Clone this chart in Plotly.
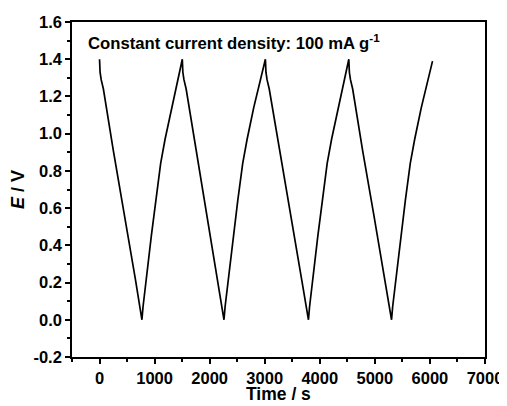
import plotly.graph_objects as go

# Time (s) and potential (V)
time_s = [0, 10, 30, 70, 250, 450, 650, 770, 790, 940, 1020, 1110, 1190, 1310, 1503,
          1513, 1533, 1573, 1753, 1953, 2150, 2260, 2280, 2430, 2510, 2600, 2680, 2800, 3012,
          3022, 3042, 3082, 3262, 3462, 3674, 3794, 3814, 3964, 4044, 4134, 4214, 4334, 4527,
          4537, 4557, 4597, 4777, 4977, 5183, 5303, 5323, 5473, 5553, 5643, 5723, 5843, 6047]
potential_v = [1.40, 1.33, 1.29, 1.24, 0.91, 0.57, 0.22, 0.00, 0.07, 0.45, 0.64, 0.84, 0.97, 1.14, 1.40,
               1.33, 1.29, 1.24, 0.91, 0.56, 0.20, 0.00, 0.07, 0.45, 0.64, 0.84, 0.97, 1.14, 1.40,
               1.33, 1.29, 1.24, 0.92, 0.58, 0.21, 0.00, 0.07, 0.45, 0.64, 0.84, 0.97, 1.14, 1.40,
               1.33, 1.29, 1.24, 0.91, 0.57, 0.21, 0.00, 0.07, 0.45, 0.64, 0.84, 0.97, 1.14, 1.39]

x_ticks = [0, 1000, 2000, 3000, 4000, 5000, 6000, 7000]
y_ticks = [-0.2, 0.0, 0.2, 0.4, 0.6, 0.8, 1.0, 1.2, 1.4, 1.6]
y_tick_labels = ["-0.2", "0.0", "0.2", "0.4", "0.6", "0.8", "1.0", "1.2", "1.4", "1.6"]
x_title = "Time / s"
annotation_text = "Constant current density: 100 mA g<sup>-1</sup>"

FONT = "Liberation Sans, Arial, sans-serif"

fig = go.Figure()
fig.add_trace(go.Scatter(x=time_s, y=potential_v, mode="lines",
                         line=dict(color="black", width=1.7), showlegend=False))

axis_common = dict(
    showgrid=False, zeroline=False, showline=True, linecolor="black", linewidth=1.6,
    mirror=True, ticks="outside", ticklen=5, tickwidth=1.5, tickcolor="black",
    automargin=False,
    tickfont=dict(family=FONT, size=16.5, color="black", weight="bold"),
)

# page body has an 8 px margin, so the figure is sized 8 px smaller
fig.update_layout(
    width=499, height=398,
    margin=dict(l=64, r=22, t=14, b=49),
    paper_bgcolor="white", plot_bgcolor="white",
    xaxis=dict(range=[-500, 7000], tickvals=x_ticks,
               minor=dict(ticks="outside", ticklen=3, tickwidth=1.5, tickcolor="black", dtick=500, tick0=0),
               **axis_common),
    yaxis=dict(range=[-0.2, 1.6], tickvals=y_ticks, ticktext=y_tick_labels,
               minor=dict(ticks="outside", ticklen=3, tickwidth=1.5, tickcolor="black", dtick=0.1, tick0=0),
               title=dict(text="<b><i>E</i> / V</b>", font=dict(family=FONT, size=18, color="black"), standoff=4),
               **axis_common),
    annotations=[
        dict(x=-240, y=1.49, xref="x", yref="y", xanchor="left", yanchor="middle",
             text="<b>" + annotation_text + "</b>", showarrow=False,
             font=dict(family=FONT, size=16.7, color="black")),
        dict(x=0.5, y=-0.143, xref="paper", yref="paper", xanchor="center", yanchor="bottom",
             text="<b>" + x_title + "</b>", showarrow=False, borderpad=0,
             font=dict(family=FONT, size=17.5, color="black")),
    ],
)

fig.write_html("out.html")
